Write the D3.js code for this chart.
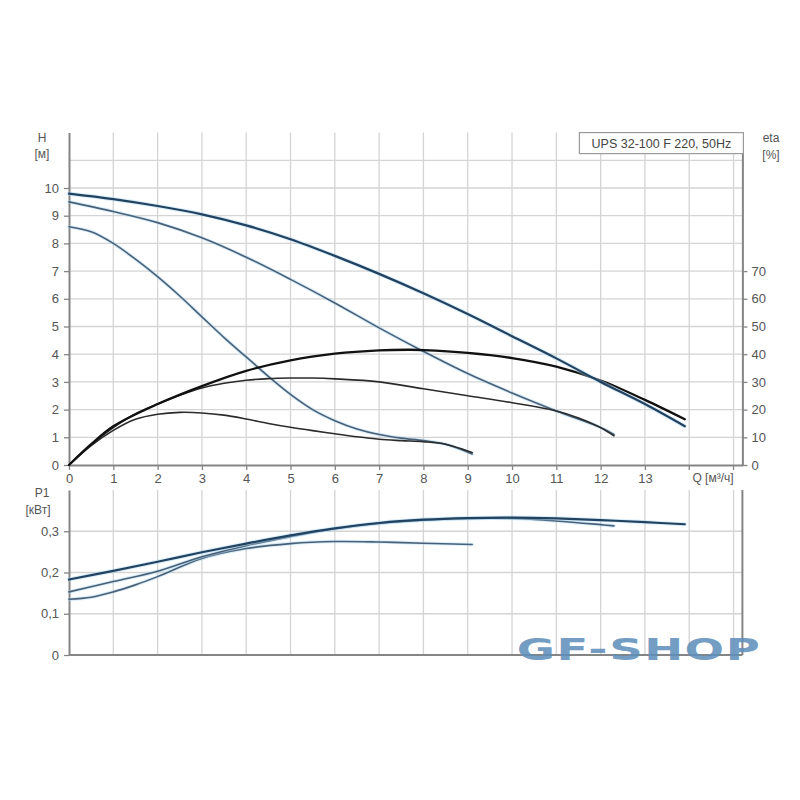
<!DOCTYPE html>
<html><head><meta charset="utf-8">
<script src="https://cdn.jsdelivr.net/npm/d3@7"></script>
<style>
body{margin:0;background:#fff;}
svg{display:block;font-family:"Liberation Sans",Arial,sans-serif;}
</style></head>
<body><svg id="c" width="800" height="800"></svg>
<script>
// ---- data ----
const qTicks = [0,1,2,3,4,5,6,7,8,9,10,11,12,13];
const hTicks = [0,1,2,3,4,5,6,7,8,9,10];
const etaTicks = [0,10,20,30,40,50,60,70];
const pTicks = [0,0.1,0.2,0.3];

const H3 = [[0,9.8],[1,9.6],[2,9.35],[3,9.05],[4,8.65],[5,8.15],[6,7.55],[7,6.9],[8,6.2],[9,5.45],[10,4.65],[11,3.85],[12,3.0],[13,2.2],[13.9,1.4]];
const H2 = [[0,9.5],[1,9.15],[2,8.75],[3,8.2],[4,7.5],[5,6.7],[6,5.85],[7,4.95],[8,4.1],[9,3.3],[10,2.6],[11,1.95],[12,1.35],[12.3,1.1]];
const H1 = [[0,8.6],[0.5,8.42],[1,8.0],[1.5,7.43],[2,6.8],[2.5,6.1],[3,5.35],[3.5,4.6],[4,3.9],[4.5,3.2],[5,2.55],[5.5,2.0],[6,1.6],[6.5,1.3],[7,1.1],[7.5,0.97],[8,0.88],[8.5,0.75],[9.1,0.4]];

const ETA3 = [[0,0],[0.5,7.5],[1,14],[2,22],[3,28.5],[4,34],[5,37.8],[6,40.2],[7,41.4],[7.7,41.6],[8,41.5],[9,40.5],[10,38.6],[11,35.5],[12,30.5],[13,23.5],[13.9,16.5]];
const ETA2 = [[0,0],[0.5,7.3],[1,13.5],[1.5,18.5],[2,22],[2.5,25.2],[3,27.8],[3.5,29.5],[4,30.6],[4.5,31.2],[5,31.4],[5.5,31.4],[6,31.1],[7,30],[8,27.5],[9,25],[10,22.5],[11,19.5],[11.5,17],[12,13.5],[12.3,10.5]];
const ETA1 = [[0,0],[0.5,7],[1,12.5],[1.5,16.5],[2,18.3],[2.5,19],[3,18.8],[3.5,18],[4,16.6],[4.5,15],[5,13.6],[5.5,12.4],[6,11.3],[6.5,10.2],[7,9.3],[7.5,8.8],[8,8.4],[8.5,7.5],[9.1,4.5]];

const P3 = [[0,0.183],[1,0.204],[2,0.226],[3,0.249],[4,0.27],[5,0.29],[6,0.307],[7,0.32],[8,0.328],[9,0.332],[10,0.333],[11,0.331],[12,0.327],[13,0.322],[13.9,0.317]];
const P2 = [[0,0.153],[1,0.178],[2,0.203],[3,0.238],[4,0.265],[5,0.287],[6,0.306],[7,0.319],[8,0.327],[9,0.331],[10,0.331],[11,0.325],[12,0.316],[12.3,0.313]];
const P1 = [[0,0.135],[0.5,0.14],[1,0.153],[1.5,0.17],[2,0.19],[3,0.234],[4,0.258],[5,0.27],[6,0.275],[7,0.274],[8,0.271],[9.1,0.268]];

const title = "UPS 32-100 F 220, 50Hz";

// ---- scales ----
const svg = d3.select("#c");
const x = d3.scaleLinear().domain([0,15.2]).range([69,742.4]);
const yH = d3.scaleLinear().domain([0,12]).range([465,132.6]);
const yE = d3.scaleLinear().domain([0,120]).range([465,132.6]);
const yP = d3.scaleLinear().domain([0,0.4]).range([655,490]);

const gridC = "#d4d4d4", axisC = "#858585", txtC = "#555";

// grids top
const gTop = svg.append("g");
gTop.selectAll("line.v").data(d3.range(1,16)).join("line")
  .attr("x1",d=>x(d)).attr("x2",d=>x(d)).attr("y1",yH(12)).attr("y2",yH(0))
  .attr("stroke",gridC).attr("stroke-width",1.3);
gTop.selectAll("line.h").data(d3.range(1,12)).join("line")
  .attr("x1",x(0)).attr("x2",x(15.2)).attr("y1",d=>yH(d)).attr("y2",d=>yH(d))
  .attr("stroke",gridC).attr("stroke-width",1.3);
// grids bottom
const gBot = svg.append("g");
gBot.selectAll("line.v").data(d3.range(1,16)).join("line")
  .attr("x1",d=>x(d)).attr("x2",d=>x(d)).attr("y1",yP(0.4)).attr("y2",yP(0))
  .attr("stroke",gridC).attr("stroke-width",1.3);
gBot.selectAll("line.h").data([0.1,0.2,0.3]).join("line")
  .attr("x1",x(0)).attr("x2",x(15.2)).attr("y1",d=>yP(d)).attr("y2",d=>yP(d))
  .attr("stroke",gridC).attr("stroke-width",1.3);

function styleAxis(g){
  g.select(".domain").attr("stroke",axisC).attr("stroke-width",2);
  g.selectAll(".tick line").attr("stroke",axisC).attr("stroke-width",1.3);
  g.selectAll(".tick text").attr("fill",txtC).attr("font-size",13);
}

// axes top
svg.append("g").attr("transform",`translate(${x(0)},0)`)
  .call(d3.axisLeft(yH).tickValues(hTicks).tickSize(5).tickPadding(5).tickSizeOuter(0)).call(styleAxis);
svg.append("g").attr("transform",`translate(${x(15.2)},0)`)
  .call(d3.axisRight(yE).tickValues(etaTicks).tickSize(5).tickPadding(4).tickSizeOuter(0)).call(styleAxis);
svg.append("g").attr("transform",`translate(0,${yH(0)})`)
  .call(d3.axisBottom(x).tickValues(qTicks).tickSize(5).tickPadding(4).tickSizeOuter(0)).call(styleAxis);
svg.selectAll("line.xt").data([14,15]).join("line")
  .attr("x1",d=>x(d)).attr("x2",d=>x(d)).attr("y1",yH(0)).attr("y2",yH(0)+5)
  .attr("stroke",axisC).attr("stroke-width",1.3);

// axes bottom
svg.append("g").attr("transform",`translate(${x(0)},0)`)
  .call(d3.axisLeft(yP).tickValues(pTicks).tickSize(5).tickPadding(5).tickSizeOuter(0)
    .tickFormat(d=>d===0?"0":d3.format(".1f")(d).replace(".",","))).call(styleAxis);
svg.append("line").attr("x1",x(0)).attr("x2",x(15.2)).attr("y1",yP(0)).attr("y2",yP(0))
  .attr("stroke",axisC).attr("stroke-width",2);
svg.append("line").attr("x1",x(15.2)).attr("x2",x(15.2)).attr("y1",yP(0.4)).attr("y2",yP(0))
  .attr("stroke",axisC).attr("stroke-width",2);

// axis titles
const t = (s,xx,yy,anchor)=>svg.append("text").attr("x",xx).attr("y",yy).attr("text-anchor",anchor||"middle")
   .attr("fill",txtC).attr("font-size",12).text(s);
t("H",42,142); t("[м]",42,158);
t("eta",771,142); t("[%]",771,159);
t("Q [м³/ч]",713,482);
t("P1",42,497); t("[кВт]",38,514);

// legend box
const bw = 164, bx = x(15.2)-bw+1;
svg.append("rect").attr("x",bx).attr("y",132.6).attr("width",bw).attr("height",21)
  .attr("fill","#fff").attr("stroke","#9a9a9a").attr("stroke-width",1.2);
svg.append("text").attr("x",bx+bw/2).attr("y",148).attr("text-anchor","middle")
  .attr("fill","#444").attr("font-size",12.5).text(title);

// curves
const cv = d3.curveCatmullRom.alpha(0.5);
const lineH = d3.line().x(d=>x(d[0])).y(d=>yH(d[1])).curve(cv);
const lineE = d3.line().x(d=>x(d[0])).y(d=>yE(d[1])).curve(cv);
const lineP = d3.line().x(d=>x(d[0])).y(d=>yP(d[1])).curve(cv);

function draw(gen,data,color,w,halo){
  if(halo) svg.append("path").attr("d",gen(data)).attr("fill","none")
    .attr("stroke","#a9d8f3").attr("stroke-width",w+2).attr("stroke-opacity",0.45).attr("stroke-linecap","round");
  svg.append("path").attr("d",gen(data)).attr("fill","none")
    .attr("stroke",color).attr("stroke-width",w).attr("stroke-linecap","round");
}
draw(lineH,H1,"#4a6076",1.6,true);
draw(lineH,H2,"#4a6076",1.6,true);
draw(lineE,ETA1,"#2b2b2b",1.6,false);
draw(lineE,ETA2,"#2b2b2b",1.6,false);
draw(lineE,ETA3,"#111",2.3,false);
draw(lineH,H3,"#22425f",2.2,true);

draw(lineP,P1,"#4a6076",1.6,true);
draw(lineP,P2,"#4a6076",1.6,true);
draw(lineP,P3,"#22425f",2.2,true);

// watermark
svg.append("text").attr("x",0).attr("y",0)
  .attr("transform","translate(639,660) scale(1.55,1)")
  .attr("text-anchor","middle").attr("font-family","'DejaVu Sans',sans-serif")
  .attr("font-weight","bold").attr("font-size",30).attr("letter-spacing",1)
  .attr("fill","#5f8fba").attr("fill-opacity",0.9).text("GF-SHOP");
</script></body></html>
